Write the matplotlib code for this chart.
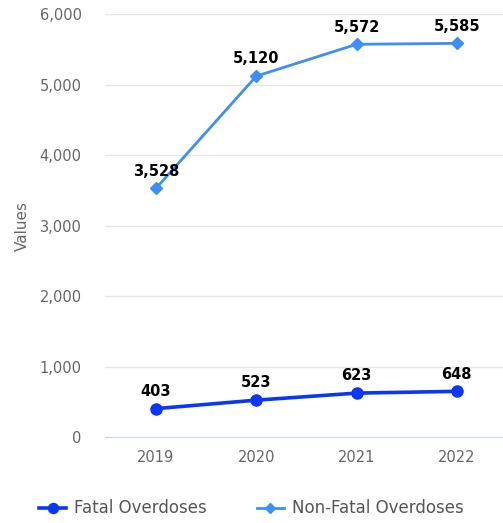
import matplotlib
matplotlib.use('Agg')
import matplotlib.pyplot as plt
import numpy as np

years = ["2019", "2020", "2021", "2022"]
fatal = [403, 523, 623, 648]
non_fatal = [3528, 5120, 5572, 5585]

plt.rcParams['font.family'] = ['DejaVu Sans']

fig = plt.figure(figsize=(5.03, 5.23), dpi=100)
ax = fig.add_axes([0.209, 0.1644, 0.791, 0.8086])

x = np.arange(len(years))
ax.plot(x, fatal, color="#0a36f5", lw=2.6, marker="o", ms=8, label="Fatal Overdoses", zorder=3)
ax.plot(x, non_fatal, color="#3d8ef7", lw=2, marker="D", ms=6, label="Non-Fatal Overdoses", zorder=3)

# etiquetas de datos
for xi, v in zip(x, fatal):
    ax.annotate(f"{v:,}", (xi, v), xytext=(0, 7), textcoords="offset points",
                ha="center", va="bottom", fontsize=10.5, fontweight="bold", color="black")
for xi, v in zip(x, non_fatal):
    ax.annotate(f"{v:,}", (xi, v), xytext=(0, 7), textcoords="offset points",
                ha="center", va="bottom", fontsize=10.5, fontweight="bold", color="black")

ax.set_xlim(-0.507, 3.46)
ax.set_ylim(0, 6000)
ax.set_xticks(x)
ax.set_xticklabels(years)
ax.set_yticks(np.arange(0, 6001, 1000))
ax.set_yticklabels([f"{int(t):,}" for t in np.arange(0, 6001, 1000)])
ax.tick_params(axis="both", length=0, labelsize=10.5, labelcolor="#666666")
ax.tick_params(axis="x", pad=9)
ax.tick_params(axis="y", pad=17)
ax.grid(axis="y", color="#e6e6e6", lw=1)
ax.set_axisbelow(True)
for s in ["top", "right", "left"]:
    ax.spines[s].set_visible(False)
ax.spines["bottom"].set_color("#ccd6eb")
ax.set_ylabel("Values", color="#666666", fontsize=11, labelpad=7)

fig.legend(loc="center", bbox_to_anchor=(0.5, 0.028), ncol=2, frameon=False,
           fontsize=12, labelcolor="#555555", handlelength=1.6, handletextpad=0.5,
           columnspacing=3, markerscale=0.9)

plt.savefig("out.png", dpi=100)
